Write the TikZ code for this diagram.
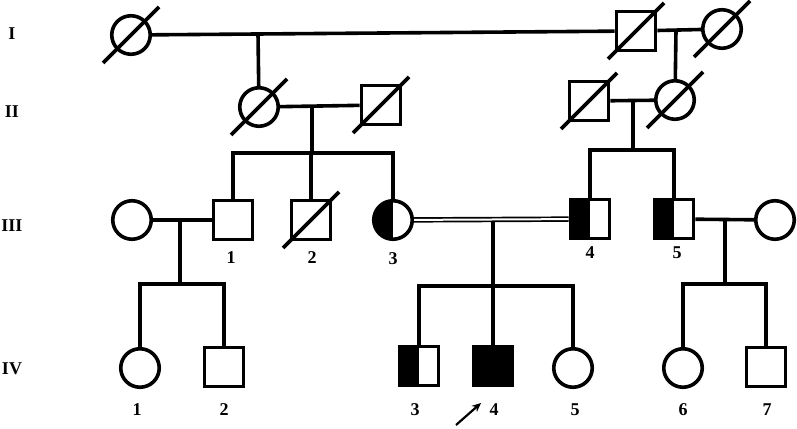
\documentclass[tikz,border=0pt]{standalone}
\usepackage{fontspec}
\setmainfont{Liberation Serif}
\usetikzlibrary{arrows.meta}
\begin{document}
\begin{tikzpicture}[x=1pt,y=-1pt,line width=3.6pt,font=\fontsize{18}{20}\selectfont\bfseries]
            \tikzstyle{female}=[circle,draw,fill=white,minimum size=38.5pt,inner sep=0pt]
            \tikzstyle{male}=[rectangle,draw,fill=white,minimum size=39pt,inner sep=0pt]
            \tikzstyle{carrier}=[path picture={\fill[black] (path picture bounding box.south west) rectangle (path picture bounding box.north);}]
            \tikzstyle{affected}=[fill=black]
            \tikzstyle{num}=[inner sep=0pt]
            \useasboundingbox (0,0) rectangle (797,428);
            \node[num] (gI) at (12,34) {I};
            \node[num] (gII) at (12,112) {II};
            \node[num] (gIII) at (12,226) {III};
            \node[num] (gIV) at (12,369) {IV};
            \node[female] (I1) at (131,35) {};
            \node[male] (I2) at (636,31) {};
            \node[female] (I3) at (722,29) {};
            \node[female] (II1) at (259,107) {};
            \node[male] (II2) at (381,105) {};
            \node[male] (II3) at (589,101) {};
            \node[female] (II4) at (675,100) {};
            \node[female] (IIIa) at (132,220) {};
            \node[male] (III1) at (233,220) {};
            \node[male] (III2) at (311,220) {};
            \node[female,carrier] (III3) at (393,220) {};
            \node[male,carrier] (III4) at (590,219) {};
            \node[male,carrier] (III5) at (674,219) {};
            \node[female] (IIIb) at (775,220) {};
            \node[female] (IV1) at (140,368) {};
            \node[male] (IV2) at (224,367) {};
            \node[male,carrier] (IV3) at (419,366) {};
            \node[male,affected] (IV4) at (493,366) {};
            \node[female] (IV5) at (573,368) {};
            \node[female] (IV6) at (683,368) {};
            \node[male] (IV7) at (766,367) {};
            \foreach \n in {I1,I2,I3,II1,II2,II3,II4,III2}
                \draw ([shift={(-28,28)}]\n.center) -- ([shift={(28,-28)}]\n.center);
            \coordinate (mI12) at (258,34);
            \coordinate (mI23) at (676,30);
            \coordinate (mII12) at (312,107);
            \coordinate (sII12) at (312,153);
            \coordinate (mII34) at (633,100);
            \coordinate (sII34) at (633,150);
            \coordinate (mIIIa1) at (180,220);
            \coordinate (sIIIa1) at (180,284);
            \coordinate (mIII34) at (493,222);
            \coordinate (sIII34) at (493,286);
            \coordinate (mIII5b) at (725,219);
            \coordinate (sIII5b) at (725,284);
            \draw (I1) -- (I2);
            \draw (I2) -- (I3);
            \draw (mI12) -- (II1);
            \draw (mI23) -- (II4);
            \draw (II1) -- (II2);
            \draw (II3) -- (II4);
            \draw (mII12) -- (sII12);
            \draw (III1) |- (sII12) -| (III3);
            \draw (III2) -- (III2 |- sII12);
            \draw (mII34) -- (sII34);
            \draw (III4) |- (sII34) -| (III5);
            \draw (IIIa) -- (III1);
            \draw[double,double distance=2pt,line width=1.7pt] (III3) -- (III4);
            \draw (III5) -- (IIIb);
            \draw (mIIIa1) -- (sIIIa1);
            \draw (IV1) |- (sIIIa1) -| (IV2);
            \draw (mIII34) -- (IV4);
            \draw (IV3) |- (sIII34) -| (IV5);
            \draw (mIII5b) -- (sIII5b);
            \draw (IV6) |- (sIII5b) -| (IV7);
            \node[num] (nIII1) at (231,258) {1};
            \node[num] (nIII2) at (312,258) {2};
            \node[num] (nIII3) at (393,259) {3};
            \node[num] (nIII4) at (590,253) {4};
            \node[num] (nIII5) at (677,253) {5};
            \node[num] (nIV1) at (137,410) {1};
            \node[num] (nIV2) at (224,410) {2};
            \node[num] (nIV3) at (415,410) {3};
            \node[num] (nIV4) at (494,410) {4};
            \node[num] (nIV5) at (575,410) {5};
            \node[num] (nIV6) at (683,410) {6};
            \node[num] (nIV7) at (767,410) {7};
            \coordinate (fa) at (456,425);
            \coordinate (fb) at (481,403);
            \draw[-{Stealth[length=9pt,width=8pt]},line width=2.2pt] (fa) -- (fb);
        \end{tikzpicture}
\end{document}
